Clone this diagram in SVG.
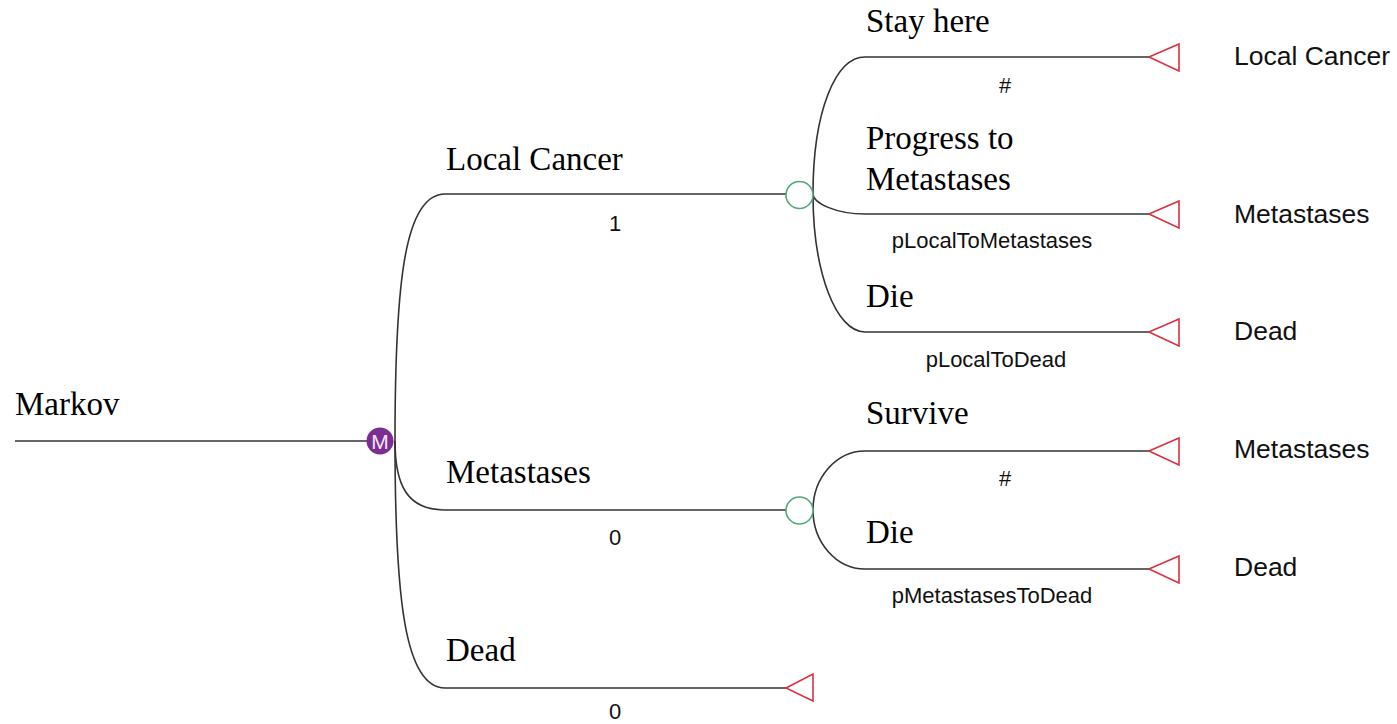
<svg xmlns="http://www.w3.org/2000/svg" width="1397" height="724" viewBox="0 0 1397 724">
<style>
.ln{fill:none;stroke:#333;stroke-width:1.6}
.term{fill:#fff;stroke:#d7323f;stroke-width:1.6}
.chance{fill:#fff;stroke:#4fa878;stroke-width:1.6}
.lbl{font-family:"Liberation Serif","Times New Roman",serif;font-size:33px;fill:#000}
.st{font-family:"Liberation Sans",Arial,sans-serif;font-size:26.5px;fill:#111}
.pr{font-family:"Liberation Sans",Arial,sans-serif;font-size:22px;fill:#111;text-anchor:middle}
</style>
<rect width="1397" height="724" fill="#fff"/>
<g id="connectors">
<path class="ln" d="M15,441 H367"/>
<path class="ln" d="M395,441 C395,280 405,194 445,194 H786"/>
<path class="ln" d="M395,441 C395,485 407,510 445,510 H786"/>
<path class="ln" d="M395,441 C395,600 405,688 445,688 H786"/>
<path class="ln" d="M813,194 C813,110 836,57 865,57 H1149"/>
<path class="ln" d="M813,194 C813,203 836,214 865,214 H1149"/>
<path class="ln" d="M813,194 C813,272 836,332 865,332 H1149"/>
<path class="ln" d="M813,510 C813,478 836,451 865,451 H1149"/>
<path class="ln" d="M813,510 C813,542 836,569 865,569 H1149"/>
</g>
<g id="root"><text class="lbl" x="15" y="415">Markov</text></g>
<g id="markov-node">
<circle cx="380" cy="441" r="13.5" fill="#7b2e91"/>
<text x="380" y="449" font-family="Liberation Sans,Arial,sans-serif" font-size="21" fill="#f1e6f7" text-anchor="middle">M</text>
</g>
<g id="local-cancer">
<text class="lbl" x="446" y="170">Local Cancer</text>
<text class="pr" x="615" y="231">1</text>
<circle class="chance" cx="799.5" cy="195" r="13.5"/>
</g>
<g id="metastases">
<text class="lbl" x="446" y="483">Metastases</text>
<text class="pr" x="615" y="545">0</text>
<circle class="chance" cx="799.5" cy="510.5" r="13.5"/>
</g>
<g id="dead">
<text class="lbl" x="446" y="661">Dead</text>
<text class="pr" x="615" y="719">0</text>
<polygon class="term" points="786,688 813,674 813,701"/>
</g>
<g id="stay-here">
<text class="lbl" x="866" y="32">Stay here</text>
<text class="pr" x="1005" y="93">#</text>
<polygon class="term" points="1149,57 1179,44 1179,71"/>
<text class="st" x="1234" y="65">Local Cancer</text>
</g>
<g id="progress">
<text class="lbl" x="866" y="149">Progress to</text>
<text class="lbl" x="866" y="190">Metastases</text>
<text class="pr" x="992" y="248">pLocalToMetastases</text>
<polygon class="term" points="1149,214 1179,201 1179,228"/>
<text class="st" x="1234" y="223">Metastases</text>
</g>
<g id="local-die">
<text class="lbl" x="866" y="307">Die</text>
<text class="pr" x="996" y="367">pLocalToDead</text>
<polygon class="term" points="1149,332 1179,319 1179,346"/>
<text class="st" x="1234" y="340">Dead</text>
</g>
<g id="survive">
<text class="lbl" x="866" y="424">Survive</text>
<text class="pr" x="1005" y="486">#</text>
<polygon class="term" points="1149,451 1179,438 1179,465"/>
<text class="st" x="1234" y="458">Metastases</text>
</g>
<g id="met-die">
<text class="lbl" x="866" y="543">Die</text>
<text class="pr" x="992" y="603">pMetastasesToDead</text>
<polygon class="term" points="1149,569 1179,556 1179,583"/>
<text class="st" x="1234" y="576">Dead</text>
</g>
</svg>
